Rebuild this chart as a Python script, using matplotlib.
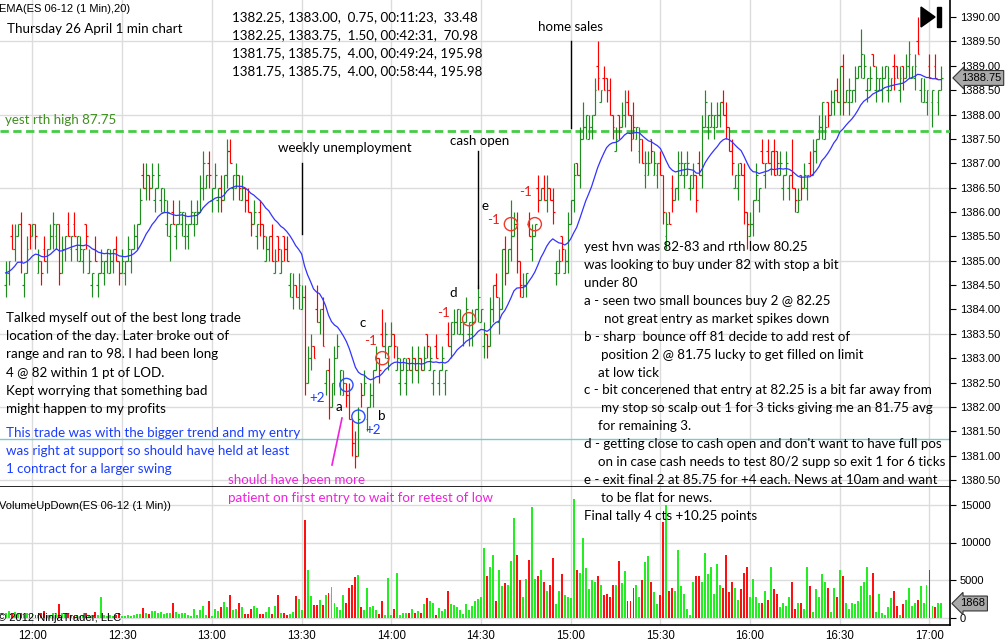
import numpy as np
import pandas as pd
import matplotlib
matplotlib.use("Agg")
import matplotlib.pyplot as plt
from matplotlib.collections import LineCollection
from matplotlib.patches import Polygon, Rectangle

# ---- values (ES 06-12, 1 min bars) ----
first_bar = "11:51"

closes = [
    1384.75, 1385.0, 1385.25, 1385.5, 1385.75, 1385.0, 1384.75, 1385.25, 1385.5, 1385.75,
    1385.5, 1385.0, 1384.75, 1385.0, 1385.25, 1385.5, 1385.75, 1385.75, 1384.75, 1385.25,
    1385.5, 1385.5, 1385.5, 1385.5, 1385.5, 1385.25, 1385.25, 1385.5, 1385.0, 1384.75,
    1385.0, 1384.75, 1385.0, 1385.0, 1385.25, 1385.0, 1385.25, 1385.0, 1384.75, 1385.0,
    1385.0, 1385.25, 1385.25, 1385.5, 1385.75, 1386.25, 1386.5, 1386.75, 1386.5, 1386.75,
    1386.5, 1386.75, 1386.5, 1386.25, 1386.0, 1385.75, 1385.75, 1385.75, 1386.0, 1386.0,
    1385.75, 1385.75, 1386.0, 1386.0, 1386.0, 1386.5, 1387.0, 1386.75, 1386.75, 1386.5,
    1386.75, 1386.5, 1386.25, 1386.75, 1387.25, 1387.0, 1386.75, 1386.75, 1386.5, 1386.5,
    1386.25, 1386.0, 1385.75, 1386.0, 1385.75, 1385.75, 1385.5, 1385.25, 1385.5, 1385.0,
    1385.0, 1385.25, 1385.0, 1385.25, 1385.0, 1384.75, 1384.5, 1384.25, 1384.5, 1384.25,
    1382.5, 1383.0, 1383.25, 1383.0, 1383.75, 1384.0, 1383.25, 1382.75, 1382.0, 1382.5,
    1383.0, 1383.25, 1382.75, 1382.5, 1382.25, 1381.75, 1381.25, 1381.0, 1381.75, 1382.25,
    1382.5, 1382.0, 1382.25, 1382.75, 1383.0, 1382.75, 1383.25, 1383.5, 1383.25, 1383.5,
    1383.25, 1383.0, 1382.75, 1383.0, 1382.75, 1382.75, 1383.0, 1382.75, 1383.0, 1382.75,
    1383.0, 1383.25, 1383.0, 1382.75, 1383.0, 1382.75, 1383.0, 1382.75, 1383.25, 1383.75,
    1383.75, 1384.0, 1383.75, 1383.75, 1384.0, 1383.75, 1383.75, 1384.0, 1384.25, 1384.0,
    1383.5, 1383.25, 1384.0, 1384.5, 1384.25, 1384.0, 1385.25, 1384.75, 1385.25, 1385.5,
    1385.75, 1385.0, 1384.5, 1384.5, 1384.75, 1385.5, 1385.5, 1385.75, 1386.25, 1386.5,
    1386.25, 1386.5, 1386.25, 1386.0, 1385.0, 1385.0, 1385.25, 1385.0, 1385.75, 1386.25,
    1386.75, 1386.75, 1387.5, 1387.75, 1388.0, 1387.75, 1388.0, 1388.5, 1388.75, 1388.5,
    1388.5, 1388.5, 1388.0, 1387.75, 1387.5, 1387.75, 1388.0, 1388.25, 1388.0, 1387.5,
    1387.75, 1387.75, 1387.5, 1387.0, 1387.0, 1387.0, 1387.25, 1387.0, 1387.0, 1386.75,
    1386.0, 1385.75, 1385.75, 1386.25, 1386.5, 1387.0, 1387.0, 1387.0, 1387.0, 1386.75,
    1386.75, 1386.25, 1386.75, 1387.75, 1388.25, 1388.0, 1388.0, 1388.0, 1388.0, 1388.25,
    1388.0, 1387.75, 1387.25, 1387.0, 1386.75, 1386.75, 1386.75, 1386.0, 1385.75, 1385.75,
    1386.25, 1386.75, 1386.5, 1387.0, 1387.0, 1387.0, 1387.25, 1386.75, 1387.0, 1387.0,
    1386.75, 1387.0, 1386.75, 1386.5, 1386.25, 1386.25, 1386.5, 1386.75, 1386.75, 1386.75,
    1387.25, 1387.5, 1387.75, 1388.25, 1387.75, 1388.0, 1388.25, 1388.5, 1388.25, 1389.0,
    1388.25, 1388.5, 1388.5, 1388.5, 1388.75, 1389.0, 1389.25, 1389.0, 1388.75, 1388.75,
    1389.0, 1388.75, 1388.75, 1388.75, 1389.0, 1388.75, 1388.75, 1388.75, 1388.75, 1388.75,
    1388.75, 1389.0, 1389.25, 1389.0, 1389.0, 1389.25, 1388.75, 1388.5, 1388.5, 1388.75,
    1388.5, 1388.75, 1388.5, 1388.75,
]

# wick beyond the bar body, in ticks of 0.25
hi_ticks = ("1011010100 0101011001 0101010010 1010010101 0101011101 0101101010 "
            "1010111010 1010110101 0101010101 1010101011 1110201010 1101010110 "
            "1010102101 0110101010 1010101010 1010101010 1010110103 1101011010 "
            "1101010110 1012010120 1010101110 1010110101 0101011010 1011101010 "
            "1101010101 0101010101 0103010101 1010101010 1010102101 0101010101 "
            "0110120101 0101")
lo_ticks = ("1101011010 1010101110 1010101101 0101101010 1010100110 1010120101 "
            "1101001011 0110101010 1010111010 0101011010 1010010110 1010101101 "
            "0101010110 1010101010 0101010101 0101011010 1101010101 0110101010 "
            "0101101010 1010101010 0101010101 1010101010 1101010101 0101010101 "
            "0101010120 1010101010 1010101010 0101010101 1010101010 0101010101 "
            "1010101010 2010")

volume = [
    650, 900, 450, 750, 450, 550, 300, 650, 350, 550,
    300, 300, 600, 900, 350, 300, 600, 600, 1800, 650,
    450, 450, 300, 200, 300, 200, 300, 600, 200, 300,
    750, 300, 2700, 300, 200, 300, 200, 300, 600, 200,
    150, 300, 200, 300, 450, 450, 1300, 650, 450, 850,
    850, 600, 700, 450, 600, 550, 1900, 750, 450, 550,
    600, 300, 150, 1100, 400, 1000, 1500, 300, 2200, 150,
    1100, 850, 1400, 2100, 1400, 3000, 1000, 1100, 1900, 1400,
    450, 450, 1100, 1600, 1250, 450, 450, 700, 1400, 450,
    1600, 3000, 600, 600, 350, 450, 700, 2850, 2450, 1000,
    13000, 6300, 2850, 1650, 1650, 2300, 1650, 3000, 3250, 4050,
    1900, 1400, 1000, 3000, 2000, 4000, 4300, 5400, 5650, 1400,
    1000, 3900, 1400, 1500, 1000, 450, 2200, 300, 5250, 300,
    1100, 5900, 300, 600, 600, 600, 1100, 600, 850, 600,
    1800, 2600, 2200, 2000, 300, 1250, 850, 1100, 3550, 1800,
    1650, 1400, 1000, 450, 1800, 1000, 1500, 2200, 2450, 2700,
    9250, 5500, 6700, 8400, 2200, 6400, 4200, 4600, 4300, 7500,
    13300, 8300, 5000, 2700, 5200, 7700, 14700, 5200, 5500, 6300,
    4800, 3500, 4300, 7900, 1800, 3600, 5800, 3000, 2800, 2600,
    15800, 6400, 6000, 10600, 6600, 3800, 5000, 4700, 5600, 4400,
    3000, 3100, 2700, 4300, 4400, 7600, 4600, 6200, 2200, 2200,
    4000, 4300, 2700, 5000, 7400, 8200, 4700, 3400, 1800, 3000,
    12700, 15000, 3500, 3900, 3600, 9000, 4200, 3200, 1100, 300,
    4800, 5500, 5500, 4800, 8600, 5800, 6700, 3200, 7100, 4300,
    3900, 8400, 3400, 4700, 4000, 2300, 3800, 6000, 6800, 2700,
    5200, 2800, 2000, 2000, 3600, 2400, 6800, 3800, 3100, 1400,
    2000, 1500, 2800, 4700, 1200, 1900, 2000, 1100, 6700, 4200,
    800, 3800, 2800, 5800, 4800, 3900, 700, 4000, 2700, 6300,
    5500, 1900, 1200, 2000, 1800, 2200, 4200, 4800, 6800, 3000,
    6000, 800, 3100, 600, 300, 1400, 2600, 3600, 1500, 400,
    1800, 2400, 3900, 1600, 1900, 2300, 4200, 2000, 4300, 6300,
    1500, 1400, 1900, 1868,
]
# u = up bar, d = down bar
vol_dir = ("uuduuduudu dudduuuudu ududuuuduu duuuuuuddu uuuuuududu uuuuuuduuu "
           "uuuuuuuudu uuduuduudu ddduudduud ududduuduu duuddududu uuuuddddud "
           "uuuuudduuu duuuududud uduuduuudu uuuuuuuuuu uduuduuduu udduuduudu "
           "dudduuduuu uduuuuuudu dddduduudd duuduuduud dudduuuuuu udduuuuuuu "
           "dddduudddu uuudududdu uuudduduud uuuuuduudu duuuuuuuuu duuuuuuddu "
           "duuuuduuud uduu")

yest_rth_high = 1387.67
support_level = 1381.35

time_labels = ["12:00", "12:30", "13:00", "13:30", "14:00", "14:30",
               "15:00", "15:30", "16:00", "16:30", "17:00"]

# news events: label, time, line from/to price
event_names = ["weekly unemployment", "cash open", "home sales"]
event_times = ["13:30", "14:29", "15:00"]
event_lo = [1385.55, 1384.45, 1387.72]
event_hi = [1387.0, 1387.25, 1389.5]

# entries (blue) and exits (red)
trade_times = ["13:45", "13:49", "13:57", "14:26", "14:40", "14:48"]
trade_prices = [1382.45, 1381.8, 1383.0, 1383.8, 1385.75, 1385.75]
trade_kind = ["buy", "buy", "sell", "sell", "sell", "sell"]

trade_table = [
    "1382.25, 1383.00,  0.75, 00:11:23,  33.48",
    "1382.25, 1383.75,  1.50, 00:42:31,  70.98",
    "1381.75, 1385.75,  4.00, 00:49:24, 195.98",
    "1381.75, 1385.75,  4.00, 00:58:44, 195.98",
]

left_notes = [
    "Talked myself out of the best long trade",
    "location of the day. Later broke out of",
    "range and ran to 98. I had been long",
    "4 @ 82 within 1 pt of LOD.",
    "Kept worrying that something bad",
    "might happen to my profits",
]
blue_notes = [
    "This trade was with the bigger trend and my entry",
    "was right at support so should have held at least",
    "1 contract for a larger swing",
]
pink_notes = [
    "should have been more",
    "patient on first entry to wait for retest of low",
]
right_notes = [
    (584, "yest hvn was 82-83 and rth low 80.25"),
    (584, "was looking to buy under 82 with stop a bit"),
    (584, "under 80"),
    (584, "a - seen two small bounces buy 2 @ 82.25"),
    (604, "not great entry as market spikes down"),
    (584, "b - sharp  bounce off 81 decide to add rest of"),
    (601, "position 2 @ 81.75 lucky to get filled on limit"),
    (598, "at low tick"),
    (584, "c - bit concerened that entry at 82.25 is a bit far away from"),
    (601, "my stop so scalp out 1 for 3 ticks giving me an 81.75 avg"),
    (598, "for remaining 3."),
    (584, "d - getting close to cash open and don't want to have full pos"),
    (598, "on in case cash needs to test 80/2 supp so exit 1 for 6 ticks"),
    (584, "e - exit final 2 at 85.75 for +4 each. News at 10am and want"),
    (601, "to be flat for news."),
    (584, "Final tally 4 cts +10.25 points"),
]


def to_min(hhmm):
    h, m = hhmm.split(":")
    return int(h) * 60 + int(m) - 12 * 60


# ---- build OHLC ----
closes = np.array(closes)
n = len(closes)
t = to_min(first_bar) + np.arange(n)
hi_t = np.array([int(c) for c in hi_ticks.replace(" ", "")])
lo_t = np.array([int(c) for c in lo_ticks.replace(" ", "")])
up = np.array([c == "u" for c in vol_dir.replace(" ", "")])

opens = np.concatenate([[closes[0]], closes[:-1]])
fix = up & (opens >= closes)
opens[fix] = closes[fix] - 0.25
fix = ~up & (opens <= closes)
opens[fix] = closes[fix] + 0.25
highs = np.maximum(opens, closes) + 0.25 * hi_t
lows = np.minimum(opens, closes) - 0.25 * lo_t
ema = pd.Series(closes).ewm(span=20, adjust=False).mean()

# ---- figure ----
W, H = 1008, 644
fig = plt.figure(figsize=(W / 100, H / 100), dpi=100)
fig.patch.set_facecolor("white")


def at(x, y):
    return x / W, 1 - y / H


ninja = "Liberation Sans"
note_font = "Lato"
grid_c = "#dcdcdc"
bar_green = "#1e8c1e"
bar_red = "#ff0000"

x0 = -32.5 / 2.99
x1 = (950 - 32.5) / 2.99

ax = fig.add_axes([0, 1 - 487.3 / H, 950 / W, 487.3 / H])
axv = fig.add_axes([0, 1 - 624.7 / H, 950 / W, (624.7 - 487.3) / H])

for a in (ax, axv):
    a.set_xlim(x0, x1)
    a.spines["left"].set_visible(False)
    a.spines["top"].set_visible(False)
    for s in ("right", "bottom"):
        a.spines[s].set_linewidth(1.2)
        a.spines[s].set_color("black")
    a.yaxis.tick_right()
    a.tick_params(axis="y", direction="out", length=4, width=0.8, pad=3,
                  labelsize=8)
    for v in range(0, 301, 30):
        a.axvline(v, color=grid_c, lw=1, zorder=0)

ax.set_ylim(1380.35, 1390.35)
ax.set_yticks(np.arange(1380.5, 1390.01, 0.5))
ax.set_yticklabels([f"{v:.2f}" for v in np.arange(1380.5, 1390.01, 0.5)],
                   family=ninja)
ax.set_xticks([])
for g in np.arange(1380.5, 1390.01, 1.5):
    ax.axhline(g, color=grid_c, lw=1, zorder=0)

axv.set_ylim(-960, 17360)
axv.set_yticks([0, 5000, 10000, 15000])
axv.set_yticklabels(["0", "5000", "10000", "15000"], family=ninja)
for g in [0, 5000, 10000, 15000]:
    axv.axhline(g, color=grid_c, lw=1, zorder=0)
axv.set_xticks([to_min(s) for s in time_labels])
axv.set_xticklabels(time_labels, family=ninja)
axv.tick_params(axis="x", length=0, pad=3.5, labelsize=8.3)

# reference levels
ax.axhline(support_level, color="#7fc8c8", lw=1, zorder=1)
ax.axhline(yest_rth_high, color="#44cc44", lw=2, ls=(0, (3, 1.6)), zorder=3)

# OHLC bars
segs, cols = [], []
for i in range(n):
    c = bar_green if up[i] else bar_red
    segs += [[(t[i], lows[i]), (t[i], highs[i])],
             [(t[i] - 0.62, opens[i]), (t[i], opens[i])],
             [(t[i], closes[i]), (t[i] + 0.62, closes[i])]]
    cols += [c] * 3
ax.add_collection(LineCollection(segs, colors=cols, linewidths=0.85, zorder=4))
ax.plot(t, ema, color="#3333ff", lw=0.9, zorder=5)

# event lines
for name, tm, lo, hi in zip(event_names, event_times, event_lo, event_hi):
    ax.plot([to_min(tm)] * 2, [lo, hi], color="black", lw=1, zorder=6)

# trade circles
for tm, p, k in zip(trade_times, trade_prices, trade_kind):
    ax.scatter(to_min(tm), p, s=90, facecolors="none", lw=1, zorder=7,
               edgecolors="#2a4dff" if k == "buy" else "#f03a2a")

# volume
axv.bar(t, volume, width=0.66, color=np.where(up, "#22ee22", "#ff1010"),
        zorder=2)

# ---- text ----
r = fig.canvas.get_renderer()
probe = fig.text(0, 0, right_notes[8][1], fontsize=10, family=note_font)
fs = 10 * 349 / probe.get_window_extent(r).width
probe.remove()


def note(x, y, s, color="black", **kw):
    fig.text(*at(x, y), s, fontsize=fs, family=note_font, color=color,
             va="center", ha="left", **kw)


for i, s in enumerate(right_notes):
    note(s[0], 247 + 17.93 * i, s[1])
for i, s in enumerate(left_notes):
    note(6, 318 + 18.2 * i, s)
for i, s in enumerate(blue_notes):
    note(6, 433 + 18 * i, s, color="#1a3cff")
for i, s in enumerate(pink_notes):
    note(228, 480 + 18 * i, s, color="#ee22dd")
for i, s in enumerate(trade_table):
    note(232, 17 + 18 * i, s)
note(7, 29, "Thursday 26 April 1 min chart")
note(5, 120, "yest rth high 87.75", color="#3f8f1f")
note(278, 148, event_names[0])
note(450, 141, event_names[1])
note(538, 27, event_names[2])

marks = [(309, 398, "+2", "#1a3cff"), (336, 407, "a", "black"),
         (365, 430, "+2", "#1a3cff"), (378, 416, "b", "black"),
         (359, 323, "c", "black"), (364, 341, "-1", "#e8201c"),
         (449, 293, "d", "black"), (437, 313, "-1", "#e8201c"),
         (482, 206, "e", "black"), (487, 220, "-1", "#e8201c"),
         (519, 192, "-1", "#e8201c")]
for x, y, s, c in marks:
    note(x, y, s, color=c)

fig.add_artist(plt.Line2D([342 / W, 332 / W], [1 - 418 / H, 1 - 465 / H],
                          color="#ee22dd", lw=1.2))

fig.text(*at(-1, 9), "EMA(ES 06-12 (1 Min),20)", fontsize=8, family=ninja,
         va="center", ha="left")
fig.text(*at(-1, 506), "VolumeUpDown(ES 06-12 (1 Min))", fontsize=8,
         family=ninja, va="center", ha="left")
fig.text(*at(-2, 618), "\u00a9 2012 NinjaTrader, LLC", fontsize=8,
         family=ninja, va="center", ha="left")

# last value markers
yp = ax.transData.transform((0, closes[-1]))[1]
fig.text(961 / W, yp / H, f"{closes[-1]:.2f}", fontsize=8, family=ninja,
         va="center", ha="left",
         bbox=dict(boxstyle="larrow,pad=0.22", fc="#a9a9a9", ec="#333333",
                   lw=0.8))
yv = axv.transData.transform((0, volume[-1]))[1]
fig.text(960 / W, yv / H, f"{volume[-1]}", fontsize=8, family=ninja,
         va="center", ha="left",
         bbox=dict(boxstyle="larrow,pad=0.22", fc="#a9a9a9", ec="#333333",
                   lw=0.8))

# play-to-end button
fig.add_artist(Polygon([at(921, 7), at(921, 27), at(935, 17)], closed=True,
                       transform=fig.transFigure, color="black"))
fig.add_artist(Rectangle(at(937, 27), 4 / W, 20 / H, transform=fig.transFigure,
                         color="black"))

fig.savefig("out.png", dpi=100)
